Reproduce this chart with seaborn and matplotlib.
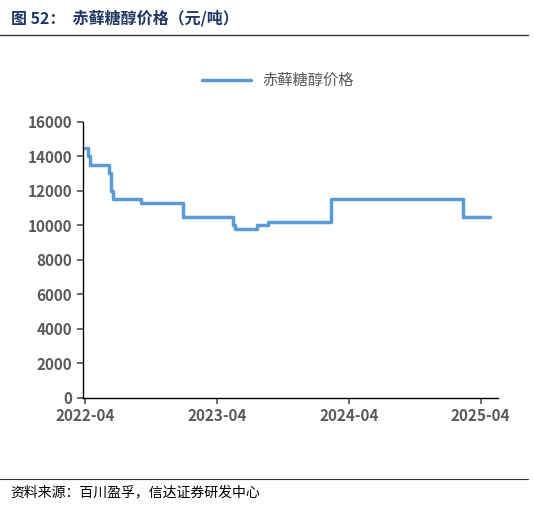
import matplotlib
matplotlib.use("Agg")
import matplotlib.pyplot as plt
import matplotlib.dates as mdates
import seaborn as sns
import pandas as pd

dates = ["2022-04-01","2022-04-08","2022-04-15","2022-06-05","2022-06-12","2022-06-18",
         "2022-09-03","2022-12-28","2023-05-15","2023-05-20","2023-07-22","2023-08-22",
         "2024-02-12","2025-02-12","2025-04-28"]
prices = [14500,14000,13500,13000,12000,11500,11300,10500,10000,9800,10000,10200,11500,10500,10500]

sns.set_theme(style="white")
plt.rcParams['font.family'] = ['Noto Sans CJK SC', 'DejaVu Sans']

df = pd.DataFrame({"date": pd.to_datetime(dates), "赤藓糖醇价格": prices})
fig = plt.figure(figsize=(5.33, 5.07), dpi=100)
ax = fig.add_axes([0.155, 0.215, 0.78, 0.545])
sns.lineplot(data=df, x="date", y="赤藓糖醇价格", ax=ax, color="#5b9bd5",
             linewidth=2.5, drawstyle="steps-post", label="赤藓糖醇价格")
ax.set_ylim(0, 16000)
ax.set_yticks(range(0, 16001, 2000))
ax.set_xlim(pd.Timestamp("2022-03-25"), pd.Timestamp("2025-05-20"))
ax.set_xticks(pd.to_datetime(["2022-04-01","2023-04-01","2024-04-01","2025-04-01"]))
ax.xaxis.set_major_formatter(mdates.DateFormatter("%Y-%m"))
ax.set_xlabel(""); ax.set_ylabel("")
for s in ["top", "right"]:
    ax.spines[s].set_visible(False)
for s in ["left", "bottom"]:
    ax.spines[s].set_color("#000000"); ax.spines[s].set_linewidth(1)
ax.tick_params(axis="both", labelsize=11, colors="#595959", length=4, direction="out", bottom=True, left=True)
for t in ax.get_xticklabels() + ax.get_yticklabels():
    t.set_fontweight("bold")
ax.legend(loc="upper center", bbox_to_anchor=(0.47, 1.23), frameon=False,
          prop={"size": 11}, labelcolor="#595959", handlelength=3.2)
fig.text(0.02, 0.965, "图 52：  赤藓糖醇价格（元/吨）", fontsize=11.5, fontweight="bold",
         color="#1f3864", va="center")
fig.add_artist(plt.Line2D([0.0, 0.99], [0.93, 0.93], color="#333333", linewidth=1))
fig.add_artist(plt.Line2D([0.0, 0.99], [0.055, 0.055], color="#333333", linewidth=0.8))
fig.text(0.02, 0.03, "资料来源：百川盈孚，信达证券研发中心", fontsize=10, style="italic",
         color="#000000", va="center")
fig.savefig("out.png", dpi=100)
